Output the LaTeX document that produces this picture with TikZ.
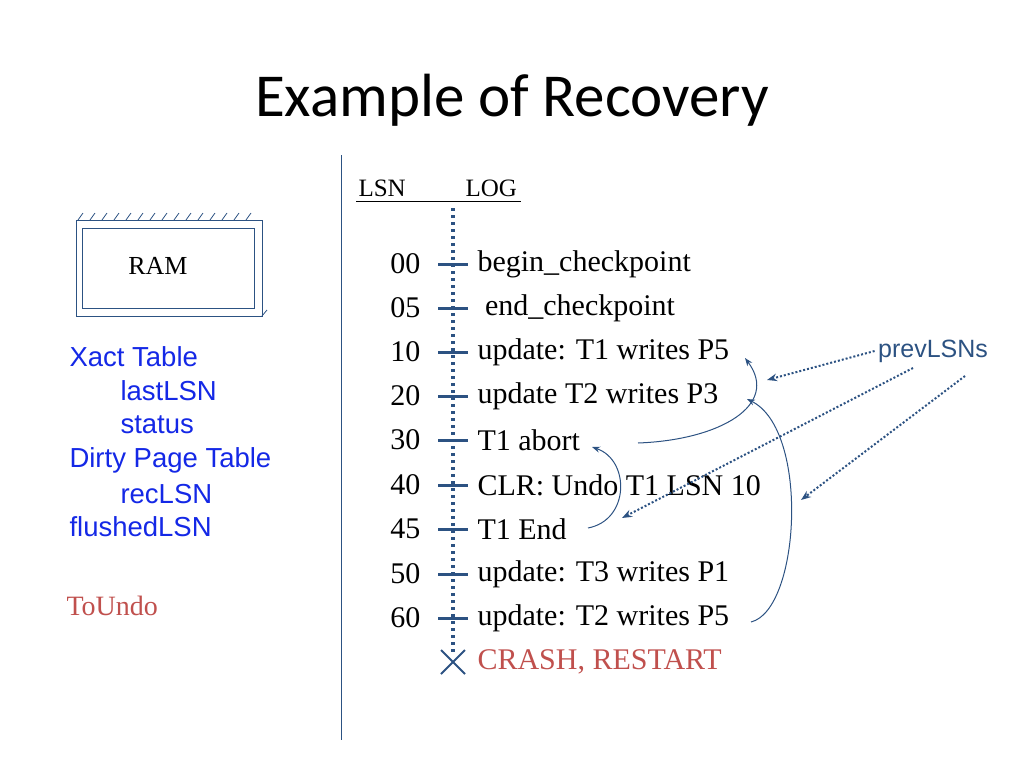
\documentclass[tikz,border=0pt]{standalone}
\usepackage{fontspec}
\setmainfont{Liberation Serif}
\newfontfamily\titlefont{Carlito}
\newfontfamily\sansfont{Liberation Sans}
\usetikzlibrary{arrows.meta}
\definecolor{logblue}{RGB}{44,82,130}
\definecolor{xblue}{RGB}{20,40,230}
\definecolor{crashred}{RGB}{192,80,77}
\tikzset{
  lsn/.style={anchor=east, font=\fontsize{30}{30}\selectfont},
  entry/.style={anchor=west, font=\fontsize{30}{30}\selectfont},
  tbl/.style={anchor=west, text=xblue, font=\sansfont\fontsize{27.5}{27.5}\selectfont},
  prev/.style={draw=logblue, line width=1pt, -{Stealth[length=8pt]}},
  prevdot/.style={draw=logblue, line width=2pt, dotted, -{Stealth[length=10pt]}}
}
\begin{document}
\begin{tikzpicture}[x=1pt,y=-1pt]
\useasboundingbox (0,0) rectangle (1024,768);

\def\xl{453}
\def\xn{424}
\def\xt{474}

% title
\node (title) at (512,100) {\titlefont\fontsize{61}{61}\selectfont Example of Recovery};

% divider
\draw[logblue, line width=1pt] (341,155) -- (341,740);

% header
\node[anchor=base west, font=\fontsize{25}{25}\selectfont] (lsnh) at (355,196) {LSN};
\node[anchor=base west, font=\fontsize{25}{25}\selectfont] (logh) at (462,196) {LOG};
\draw (356,201) -- (521,201);

% log line
\draw[logblue, line width=4pt, dash pattern=on 3pt off 4pt] (\xl,208) -- (\xl,655);

% entries
\foreach \y/\n/\t [count=\i] in {
  264/00/begin\_checkpoint,
  308/05/\ end\_checkpoint,
  352/10/update: T1 writes P5,
  396/20/update T2 writes P3,
  440/30/T1 abort,
  485/40/CLR: Undo T1 LSN 10,
  529/45/T1 End,
  574/50/update: T3 writes P1,
  618/60/update: T2 writes P5}{
  \node[lsn] (n\i) at (\xn,\y) {\n};
  \node[entry] (e\i) at (\xt,\y) {\t};
  \draw[logblue, line width=3pt] (438,\y) -- (468,\y);
}
\draw[logblue, line width=2pt] (441,650) -- (465,674) (441,674) -- (465,650);
\node[entry, text=crashred] (crash) at (\xt,662) {CRASH, RESTART};

% RAM
\draw[logblue, line width=1pt] (76,220) rectangle (262,316);
\draw[logblue, line width=1pt] (82,228) rectangle (254,308);
\foreach \x in {78,90,...,254}
  \draw[logblue, line width=0.8pt] (\x,220) -- (\x+5,213);
\draw[logblue, line width=0.8pt] (262,316) -- (267,310);
\node[font=\fontsize{26}{26}\selectfont] (ram) at (158,266) {RAM};

% tables
\node[tbl] (xact) at (66,357) {Xact Table};
\node[tbl] (last) at (117,391) {lastLSN};
\node[tbl] (stat) at (117,425) {status};
\node[tbl] (dpt) at (66,460) {Dirty Page Table};
\node[tbl] (rec) at (117,494) {recLSN};
\node[tbl] (flush) at (66,527) {flushedLSN};
\node[anchor=west, text=crashred, font=\fontsize{28}{28}\selectfont] (undo) at (63,606) {ToUndo};

% prevLSN curves
\coordinate (a30) at (638,443);
\coordinate (a10) at (745,358);
\coordinate (a60) at (751,622);
\coordinate (a20) at (747,399);
\coordinate (a45) at (588,528);
\coordinate (a30t) at (592,447);
\draw[prev] (a30) .. controls (720,440) and (780,405) .. (a10);
\draw[prev] (a60) .. controls (800,610) and (810,430) .. (a20);
\draw[prev] (a45) .. controls (630,520) and (630,460) .. (a30t);

\node[text=logblue, font=\sansfont\fontsize{25}{25}\selectfont] (plsn) at (933,351) {prevLSNs};
\coordinate (d1) at (767,380);
\coordinate (d2) at (622,518);
\coordinate (d3) at (801,500);
\draw[prevdot] (plsn.west) -- (d1);
\draw[prevdot] (913,368) -- (d2);
\draw[prevdot] (965,376) -- (d3);
\end{tikzpicture}
\end{document}
